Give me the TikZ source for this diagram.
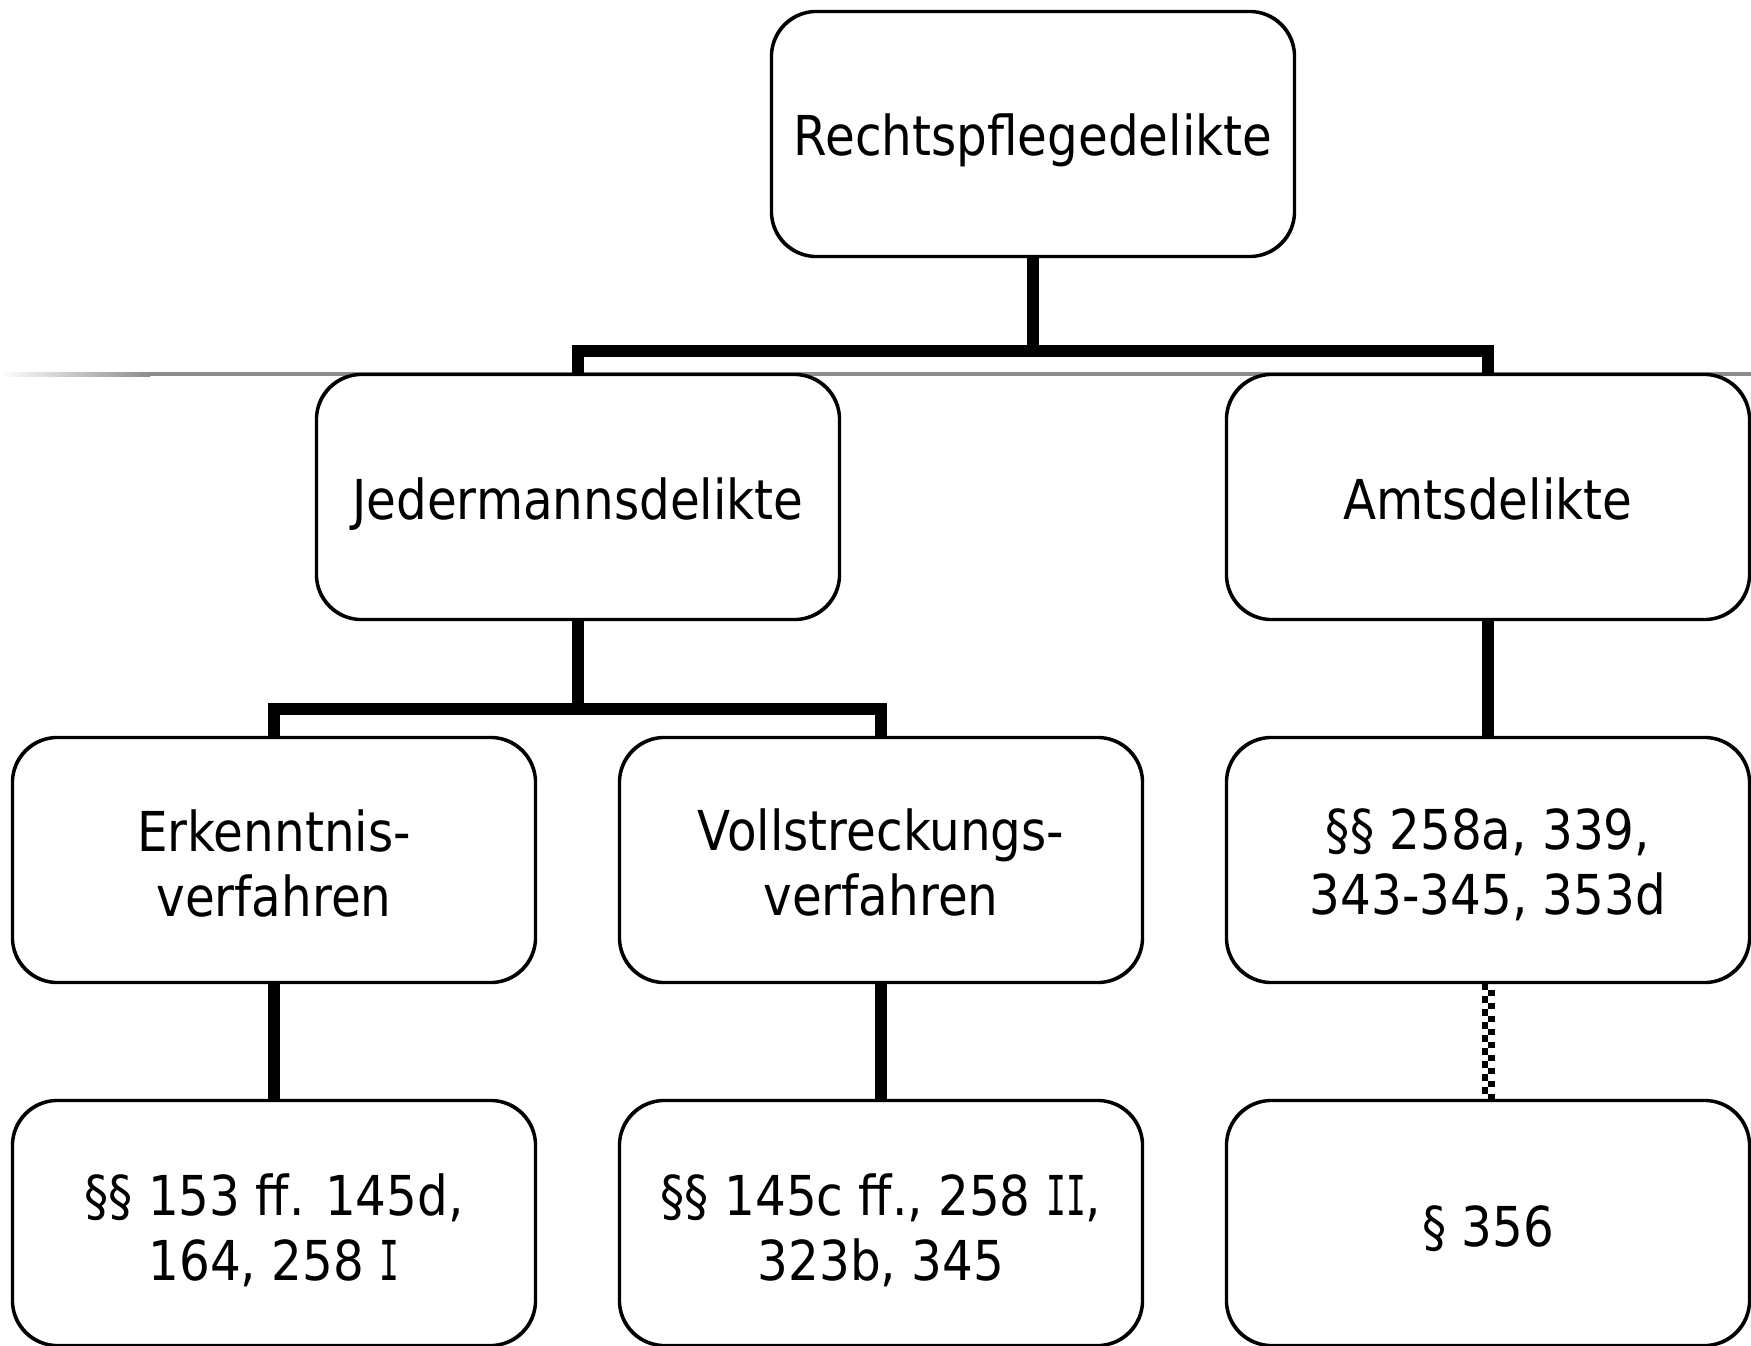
\documentclass[tikz,border=0pt]{standalone}
\usepackage{fontspec}
\setmainfont[FakeStretch=0.88]{DejaVu Sans}
\newfontfamily\serifI[FakeStretch=0.6]{DejaVu Sans Mono}
\newcommand{\RomI}{{\serifI I}}
\usetikzlibrary{calc}
\tikzset{
  box/.style={draw=black, line width=2.2pt, fill=white, rounded corners=45pt,
    minimum width=522pt, minimum height=244pt, inner sep=0pt},
  txt/.style={align=center, font=\fontsize{55}{65}\selectfont, inner sep=0pt},
  conn/.style={line width=12pt, line join=miter, line cap=butt},
}
\begin{document}
\begin{tikzpicture}[x=1pt,y=-1pt]
\useasboundingbox (0,0) rectangle (1751,1346);
% grey rule
\shade[left color=white, right color=black!45] (0,372) rectangle (150,376);
\fill[black!45] (150,372) rectangle (1751,376);
% connectors
\node[box] (top) at (1033,134) {};
\node[box] (jed) at (578,497) {};
\node[box] (amts) at (1488,497) {};
\node[box] (erk) at (274,860) {};
\node[box] (vol) at (881,860) {};
\node[box] (par) at (1488,860) {};
\node[box] (p1) at (274,1223) {};
\node[box] (p2) at (881,1223) {};
\node[box] (p3) at (1488,1223) {};
\draw[conn] (top.south) |- ($(top.south)+(0,94)$) coordinate (h1);
\draw[conn] (jed.north) |- (h1) -| (amts.north);
\draw[conn] (jed.south) |- ($(jed.south)+(0,89)$) coordinate (h2);
\draw[conn] (erk.north) |- (h2) -| (vol.north);
\draw[conn] (amts.south) -- (par.north);
\draw[conn] (erk.south) -- (p1.north);
\draw[conn] (vol.south) -- (p2.north);
\draw[line width=6.5pt, dash pattern=on 6.5pt off 6.5pt] ($(par.south)+(-3.25,0)$) -- ($(p3.north)+(-3.25,0)$);
\draw[line width=6.5pt, dash pattern=on 6.5pt off 6.5pt, dash phase=6.5pt] ($(par.south)+(3.25,0)$) -- ($(p3.north)+(3.25,0)$);
% boxes redrawn above connector ends
\foreach \n in {top,jed,amts,erk,vol,par,p1,p2,p3}{
  \draw[line width=2.2pt, rounded corners=45pt] (\n.north west) rectangle (\n.south east);
}
% texts
\node[txt] (top-t) at ($(top)+(0,6)$) {Rechtspflegedelikte};
\node[txt] (jed-t) at ($(jed)+(0,7)$) {Jedermannsdelikte};
\node[txt] (amts-t) at ($(amts)+(0,2)$) {Amtsdelikte};
\node[txt] (erk-t) at ($(erk)+(0,3)$) {Erkenntnis-\\verfahren};
\node[txt] (vol-t) at ($(vol)+(0,2)$) {Vollstreckungs-\\verfahren};
\node[txt] (par-t) at ($(par)+(0,5)$) {§§ 258a, 339,\\343-345, 353d};
\node[txt] (p1-t) at ($(p1)+(0,7)$) {§§ 153 ff. 145d,\\164, 258 \RomI};
\node[txt] (p2-t) at ($(p2)+(0,7)$) {§§ 145c ff., 258 \RomI\RomI,\\323b, 345};
\node[txt] (p3-t) at ($(p3)+(0,6)$) {§ 356};
\end{tikzpicture}
\end{document}
